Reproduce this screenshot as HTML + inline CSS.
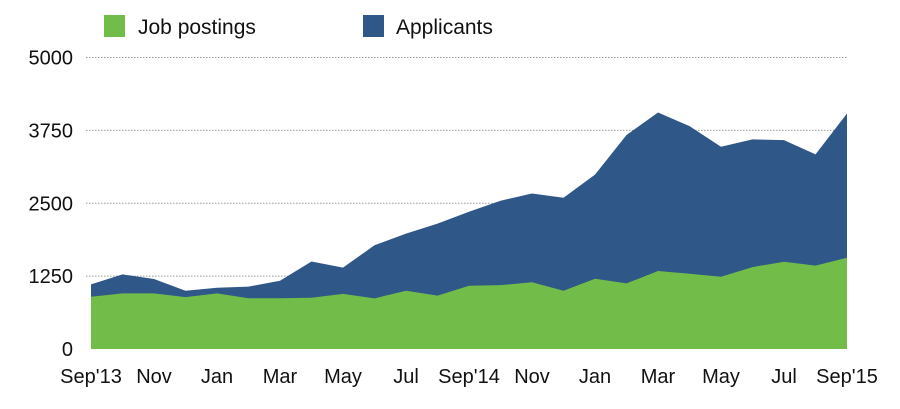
<!DOCTYPE html>
<html><head><meta charset="utf-8"><style>
body{margin:0;background:#fff;font-family:"Liberation Sans",Arial,sans-serif;}
svg text{font-family:"Liberation Sans",Arial,sans-serif;fill:#111;}
</style></head><body>
<svg width="900" height="404">
<g>
<rect x="104" y="15" width="21" height="22" fill="#72bd4a"/>
<text x="138" y="34" font-size="21">Job postings</text>
<rect x="363" y="15" width="21" height="22" fill="#2f5787"/>
<text x="396" y="34" font-size="21">Applicants</text>
</g>
<g id="grid"></g>
<path id="appArea" fill="#2f5787"/>
<path id="jobArea" fill="#72bd4a"/>
<g id="yticks"></g>
<g id="xticks"></g>
</svg>
<script>
const categories=["Sep'13","Oct","Nov","Dec","Jan","Feb","Mar","Apr","May","Jun","Jul","Aug","Sep'14","Oct","Nov","Dec","Jan","Feb","Mar","Apr","May","Jun","Jul","Aug","Sep'15"];
const jobPostings=[897,955,955,890,955,870,870,880,945,868,1000,915,1085,1095,1145,1000,1205,1125,1337,1290,1240,1405,1497,1430,1565];
const applicants=[1108,1280,1200,1000,1050,1070,1170,1500,1395,1780,1980,2150,2355,2543,2668,2595,2990,3670,4057,3823,3470,3595,3583,3338,4040];
const yTicks=[0,1250,2500,3750,5000];
const xLabelIdx=[0,2,4,6,8,10,12,14,16,18,20,22,24];
const x0=91,x1=847,yBase=349,yTop=57.5,yMax=5000;
const X=i=>x0+(x1-x0)*i/(categories.length-1);
const Y=v=>yBase-(yBase-yTop)*v/yMax;
const NS="http://www.w3.org/2000/svg";
function area(vals){let d="M"+X(0)+","+yBase;vals.forEach((v,i)=>d+="L"+X(i)+","+Y(v));return d+"L"+X(vals.length-1)+","+yBase+"Z";}
document.getElementById('appArea').setAttribute('d',area(applicants));
document.getElementById('jobArea').setAttribute('d',area(jobPostings));
const grid=document.getElementById('grid'),yt=document.getElementById('yticks'),xt=document.getElementById('xticks');
yTicks.forEach(t=>{
 if(t>0){const l=document.createElementNS(NS,'line');
 
 
 l.setAttribute('x1',86);l.setAttribute('x2',847);l.setAttribute('y1',Y(t));l.setAttribute('y2',Y(t));
 l.setAttribute('stroke','#999');l.setAttribute('stroke-dasharray','1.5,1.5');grid.appendChild(l);}
 const tx=document.createElementNS(NS,'text');
 
 
 tx.setAttribute('x',73);tx.setAttribute('y',Y(t)+7);tx.setAttribute('text-anchor','end');tx.setAttribute('font-size','20');
 tx.textContent=t;yt.appendChild(tx);
});
xLabelIdx.forEach(i=>{
 const tx=document.createElementNS(NS,'text');
 
 
 tx.setAttribute('x',X(i));tx.setAttribute('y',383);tx.setAttribute('text-anchor','middle');tx.setAttribute('font-size','20');
 tx.textContent=categories[i];xt.appendChild(tx);
});
</script>
</body></html>
